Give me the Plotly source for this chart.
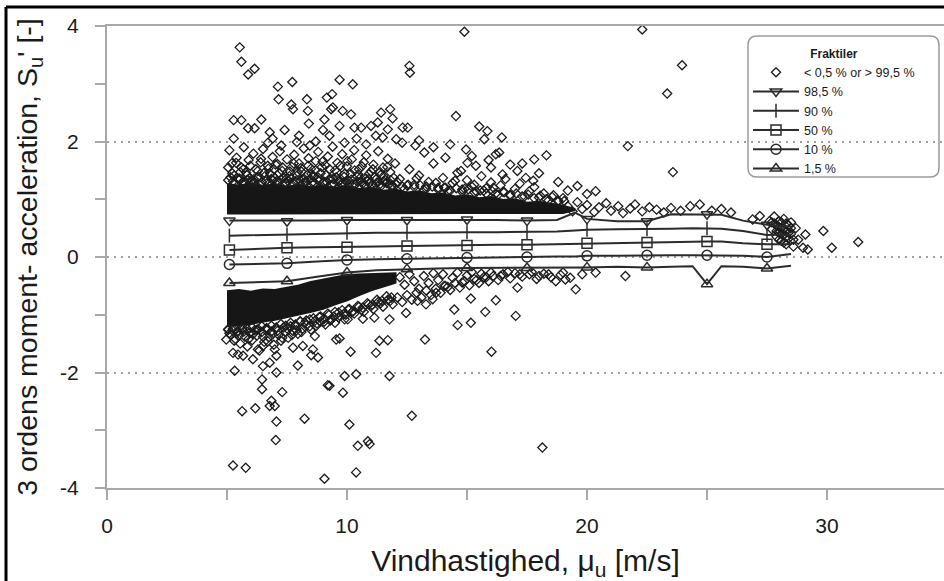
import plotly.graph_objects as go

# ---------------- data ----------------
# percentile curves
pct_x = [5.1, 6.25, 7.5, 8.75, 10, 11.25, 12.5, 13.75, 15, 16.25, 17.5, 18.75, 19.5, 20,
         21.25, 22.5, 23.5, 24.4, 25, 25.6, 26.5, 27.5, 28.5]
pct_marker_x = [5.1, 7.5, 10, 12.5, 15, 17.5, 20, 22.5, 25, 27.5]
p985 = [0.63, 0.63, 0.62, 0.63, 0.64, 0.64, 0.64, 0.65, 0.65, 0.64, 0.63, 0.64, 0.77, 0.66,
        0.62, 0.62, 0.74, 0.74, 0.74, 0.73, 0.63, 0.56, 0.53]
p90 = [0.37, 0.38, 0.39, 0.41, 0.42, 0.42, 0.42, 0.43, 0.43, 0.43, 0.43, 0.44, 0.46, 0.47,
       0.48, 0.48, 0.49, 0.50, 0.50, 0.49, 0.45, 0.38, 0.39]
p50 = [0.12, 0.14, 0.16, 0.17, 0.17, 0.18, 0.19, 0.20, 0.20, 0.21, 0.21, 0.22, 0.23, 0.24,
       0.24, 0.25, 0.26, 0.27, 0.27, 0.27, 0.24, 0.22, 0.22]
p10 = [-0.13, -0.12, -0.11, -0.08, -0.05, -0.04, -0.03, -0.02, -0.01, -0.01, 0.00, 0.01, 0.01, 0.02,
       0.02, 0.03, 0.03, 0.03, 0.03, 0.03, 0.02, 0.00, 0.05]
p015 = [-0.45, -0.44, -0.42, -0.34, -0.27, -0.23, -0.21, -0.20, -0.19, -0.19, -0.19, -0.19, -0.18, -0.18,
        -0.17, -0.18, -0.17, -0.16, -0.47, -0.16, -0.17, -0.20, -0.15]

# saturated (solid black) parts of the point cloud, outline
core_upper_x = [5.0, 10.0, 15.0, 19.0, 19.5, 19.0, 18.5, 18.0, 17.5, 17.0, 16.5, 16.0, 15.5, 15.0, 14.5,
                14.0, 13.5, 13.0, 12.5, 12.0, 11.5, 11.0, 10.5, 10.0, 9.5, 9.0, 8.5, 8.0, 7.5, 7.0, 6.5,
                6.0, 5.5, 5.0]
core_upper_y = [0.76, 0.77, 0.77, 0.77, 0.82, 0.88, 0.91, 0.95, 0.93, 0.99, 0.98, 1.03, 1.01, 1.06, 1.04,
                1.09, 1.08, 1.13, 1.11, 1.16, 1.14, 1.19, 1.17, 1.22, 1.19, 1.23, 1.20, 1.24, 1.21, 1.25,
                1.22, 1.26, 1.23, 1.25]
core_lower_x = [5.0, 5.5, 6.0, 6.5, 7.0, 7.5, 8.0, 8.5, 9.0, 9.5, 10.0, 10.5, 11.0, 11.5, 12.0,
                12.0, 11.5, 11.0, 10.5, 10.0, 9.5, 9.0, 8.5, 8.0, 7.5, 7.0, 6.5, 6.0, 5.5, 5.0]
core_lower_y = [-0.60, -0.58, -0.61, -0.57, -0.58, -0.54, -0.50, -0.44, -0.40, -0.35, -0.32, -0.31, -0.30,
                -0.30, -0.29, -0.44, -0.50, -0.57, -0.65, -0.74, -0.81, -0.89, -0.94, -0.99, -1.04, -1.08,
                -1.11, -1.15, -1.17, -1.19]

# points along the rim of the saturated parts
rim_upper_x = [5.05, 5.25, 5.45, 5.65, 5.85, 6.05, 6.25, 6.45, 6.65, 6.85, 7.05, 7.25, 7.45, 7.65, 7.85,
               8.05, 8.25, 8.45, 8.65, 8.85, 9.05, 9.25, 9.45, 9.65, 9.85, 10.05, 10.25, 10.45, 10.65,
               10.85, 11.05, 11.25, 11.45, 11.65, 11.85, 12.05, 12.3, 12.55, 12.8, 13.05, 13.3, 13.55,
               13.8, 14.05, 14.3, 14.55, 14.8, 15.05, 15.3, 15.55, 15.8, 16.05, 16.3, 16.55, 16.8, 17.05,
               17.3, 17.55, 17.8, 18.05, 18.3, 18.55, 18.8, 19.05]
rim_upper_y = [1.33, 1.31, 1.36, 1.30, 1.34, 1.32, 1.37, 1.30, 1.33, 1.35, 1.31, 1.34, 1.29, 1.36, 1.31,
               1.33, 1.30, 1.35, 1.28, 1.32, 1.30, 1.34, 1.27, 1.31, 1.29, 1.33, 1.26, 1.30, 1.27, 1.31,
               1.25, 1.29, 1.24, 1.28, 1.23, 1.26, 1.22, 1.25, 1.21, 1.24, 1.18, 1.22, 1.17, 1.20, 1.15,
               1.19, 1.13, 1.17, 1.12, 1.15, 1.10, 1.14, 1.08, 1.12, 1.06, 1.10, 1.05, 1.08, 1.02, 1.06,
               1.00, 1.04, 0.98, 0.97]
rim_lower_x = [5.05, 5.25, 5.45, 5.65, 5.85, 6.05, 6.25, 6.45, 6.65, 6.85, 7.05, 7.25, 7.45, 7.65, 7.85,
               8.05, 8.25, 8.45, 8.65, 8.85, 9.05, 9.25, 9.45, 9.65, 9.85, 10.05, 10.25, 10.45, 10.65,
               10.85, 11.05, 11.25, 11.45, 11.65, 11.85,
               12.2, 12.4, 12.6, 12.8, 13.0, 13.2, 13.4, 13.6, 13.8, 14.0, 14.2, 14.4, 14.6, 14.8, 15.0,
               15.2, 15.4, 15.6, 15.8, 16.0, 16.4, 16.7, 17.2, 17.7, 18.4, 19.0]
rim_lower_y = [-1.26, -1.24, -1.28, -1.23, -1.25, -1.22, -1.26, -1.20, -1.23, -1.19, -1.22, -1.16, -1.19,
               -1.14, -1.17, -1.11, -1.14, -1.08, -1.11, -1.04, -1.07, -1.00, -1.03, -0.96, -0.99, -0.91,
               -0.94, -0.85, -0.88, -0.80, -0.83, -0.74, -0.76, -0.68, -0.70,
               -0.35, -0.48, -0.30, -0.42, -0.55, -0.33, -0.45, -0.28, -0.40, -0.30, -0.52, -0.36, -0.27,
               -0.44, -0.32, -0.26, -0.40, -0.29, -0.35, -0.27, -0.33, -0.26, -0.30, -0.26, -0.30, -0.27]

# extra points in the half-dense zones next to the solid parts
upper_fill_x = [5.05, 5.22, 5.38, 5.52, 5.68, 5.83, 5.97, 6.12, 6.28, 6.42, 6.58, 6.72, 6.88, 7.02, 7.18,
                7.32, 7.48, 7.62, 7.78, 7.92, 8.08, 8.22, 8.38, 8.52, 8.68, 8.82, 8.98, 9.12, 9.28, 9.42,
                9.58, 9.72, 9.88, 10.02, 10.18, 10.32, 10.48, 10.62, 10.78, 10.92, 11.08, 11.22, 11.38,
                11.52, 11.68, 11.82, 12.1, 12.5, 12.9, 13.3, 13.7, 14.1, 14.5, 14.9, 15.3, 15.7, 16.1, 16.5]
upper_fill_y = [1.55, 1.45, 1.63, 1.36, 1.52, 1.42, 1.58, 1.35, 1.49, 1.70, 1.40, 1.53, 1.34, 1.60, 1.45,
                1.55, 1.36, 1.48, 1.62, 1.41, 1.54, 1.35, 1.58, 1.44, 1.50, 1.37, 1.65, 1.42, 1.52, 1.35,
                1.47, 1.58, 1.39, 1.66, 1.34, 1.50, 1.43, 1.57, 1.36, 1.44, 1.52, 1.35, 1.47, 1.40, 1.56,
                1.33, 1.30, 1.24, 1.36, 1.22, 1.28, 1.20, 1.32, 1.18, 1.25, 1.15, 1.20, 1.13]
lower_fill_x = [5.1, 5.3, 5.5, 5.7, 5.9, 6.1, 6.3, 6.5, 6.7, 6.9, 7.1, 7.3, 7.5, 7.7, 7.9, 8.1, 8.3, 8.5,
                8.7, 8.9, 9.1, 9.3, 9.5, 9.7, 9.9, 10.2, 10.6, 11.0, 11.4, 11.8]
lower_fill_y = [-1.32, -1.45, -1.36, -1.29, -1.42, -1.33, -1.25, -1.38, -1.46, -1.34, -1.28, -1.40, -1.24,
                -1.35, -1.27, -1.30, -1.18, -1.26, -1.20, -1.12, -1.17, -1.10, -1.14, -1.02, -1.08, -0.96,
                -0.92, -0.85, -0.80, -0.76]

# individual points: upper semi-dense band
upper_band_x = [5.1, 5.2, 5.3, 5.4, 5.5, 5.6, 5.7, 5.8, 5.9, 6.0, 6.1, 6.2, 6.3, 6.4, 6.5, 6.6, 6.7, 6.8, 6.9,
                7.0, 7.1, 7.2, 7.3, 7.4, 7.5, 7.6, 7.7, 7.8, 7.9, 8.0, 8.1, 8.2, 8.3, 8.4, 8.5, 8.6, 8.7,
                8.8, 8.9, 9.0, 9.1, 9.2, 9.3, 9.4, 9.5, 9.6, 9.7, 9.8, 9.9, 10.0, 10.1, 10.2, 10.3, 10.4,
                10.5, 10.6, 10.7, 10.8, 10.9, 11.0, 11.1, 11.2, 11.3, 11.4, 11.5, 11.6, 11.7, 11.8, 11.9, 12.0,
                5.15, 5.35, 5.55, 5.75, 5.95, 6.15, 6.35, 6.55, 6.75, 6.95, 7.15, 7.35, 7.55, 7.75, 7.95,
                8.15, 8.35, 8.55, 8.75, 8.95, 9.15, 9.35, 9.55, 9.75, 9.95, 10.15, 10.35, 10.55, 10.75,
                10.95, 11.15, 11.35, 11.55, 11.75, 11.95,
                12.2, 12.4, 12.6, 12.8, 13.0, 13.2, 13.4, 13.6, 13.8, 14.0, 14.2, 14.4, 14.6, 14.8, 15.0,
                15.2, 15.4, 15.6, 15.8, 16.0, 16.2, 16.4, 16.6, 16.8, 17.0, 17.2, 17.4, 17.6, 17.8, 18.0,
                18.2, 18.4, 18.6, 18.8, 19.0,
                19.2, 19.4, 19.6, 19.8, 20.0, 20.3, 20.5, 20.8, 21.0, 21.3, 21.5, 21.8, 22.0, 22.3, 22.6,
                22.9, 23.2, 23.5, 23.9, 24.3, 24.7, 25.2, 25.6, 26.0, 26.9, 27.2]
upper_band_y = [1.85, 1.62, 1.41, 1.72, 1.33, 1.55, 1.90, 1.46, 1.68, 1.29, 1.79, 1.52, 1.38, 1.64, 1.87, 1.31,
                1.58, 1.44, 1.73, 1.36, 1.61, 1.83, 1.49, 1.27, 1.69, 1.40, 1.56, 1.77, 1.33, 1.62, 1.48,
                1.88, 1.30, 1.71, 1.53, 1.39, 1.66, 1.82, 1.45, 1.28, 1.59, 1.74, 1.36, 1.91, 1.50, 1.63,
                1.32, 1.78, 1.44, 1.57, 1.27, 1.69, 1.85, 1.40, 1.52, 1.30, 1.64, 1.76, 1.35, 1.48, 1.60,
                1.26, 1.83, 1.42, 1.55, 1.33, 1.70, 1.47, 1.24, 1.62,
                1.38, 1.27, 1.47, 1.26, 1.37, 1.30, 1.25, 1.46, 1.27, 1.52, 1.30, 1.38, 1.31, 1.28, 1.47,
                1.27, 1.42, 1.29, 1.34, 1.56, 1.30, 1.25, 1.38, 1.26, 1.31, 1.44, 1.26, 1.37, 1.25, 1.29,
                1.38, 1.25, 1.30, 1.26, 1.37,
                1.35, 1.18, 1.52, 1.25, 1.41, 1.16, 1.30, 1.62, 1.20, 1.37, 1.14, 1.28, 1.46, 1.17, 1.33,
                1.22, 1.13, 1.40, 1.19, 1.29, 1.10, 1.24, 1.35, 1.08, 1.18, 1.27, 1.05, 1.14, 1.21, 1.03,
                1.10, 0.98, 1.07, 0.96, 1.02,
                0.88, 0.79, 0.95, 0.83, 0.90, 0.78, 0.86, 0.93, 0.80, 0.88, 0.76, 0.84, 0.91, 0.79, 0.86,
                0.82, 0.77, 0.85, 0.80, 0.88, 0.91, 0.80, 0.83, 0.77, 0.65, 0.71]

# cluster at the high-wind end
end_cluster_x = [27.6, 27.7, 27.8, 27.9, 27.9, 28.0, 28.0, 28.1, 28.1, 28.2, 28.2, 28.3, 28.3, 28.4, 28.4,
                 28.5, 28.5, 28.6, 28.7, 28.8, 29.0, 29.1, 29.2, 29.85, 30.2, 31.3,
                 27.8, 27.9, 28.0, 28.0, 28.1, 28.2, 28.2, 28.3, 28.4, 28.3, 28.5, 28.6, 27.7, 28.1]
end_cluster_y = [0.62, 0.48, 0.70, 0.35, 0.55, 0.42, 0.62, 0.28, 0.50, 0.38, 0.66, 0.45, 0.22, 0.55, 0.32,
                 0.60, 0.40, 0.18, 0.50, 0.30, 0.16, 0.39, 0.13, 0.45, 0.16, 0.26,
                 0.58, 0.45, 0.52, 0.30, 0.60, 0.48, 0.25, 0.58, 0.42, 0.35, 0.50, 0.30, 0.60, 0.40]

# upper outliers
upper_out_x = [5.28, 5.28, 5.53, 5.60, 5.60, 5.88, 5.88, 6.15, 6.15, 6.43, 6.71, 6.78, 7.12, 7.15, 7.26, 7.68,
               7.72, 7.75, 7.91, 8.33, 8.37, 8.41, 8.45, 9.06, 9.16, 9.27, 9.34, 9.38, 9.41, 9.69, 9.69, 9.82,
               10.17, 10.24, 10.31, 10.59, 11.0, 11.28, 11.42, 11.49, 11.7, 11.8, 11.9, 12.05, 12.32, 12.53,
               12.6, 12.62, 12.85, 13.22, 14.54, 14.75, 14.89, 14.96, 15.02, 15.37, 15.51, 15.72, 15.85, 16.0,
               16.2, 16.34, 16.45, 16.48, 17.1, 17.45, 17.76, 17.8, 18.31, 19.6, 20.0, 20.36, 21.7, 22.3,
               23.34, 23.58, 23.96,
               6.9, 7.4, 8.0, 8.7, 9.0, 9.9, 10.4, 10.8, 11.2, 12.3, 13.0, 13.6, 14.1, 14.3, 15.2, 15.9,
               16.8, 17.3, 18.0, 18.8, 19.2]
upper_out_y = [2.05, 2.37, 3.63, 3.38, 2.37, 3.16, 2.23, 3.26, 2.23, 2.38, 1.98, 2.16, 2.95, 2.73, 1.93, 2.64,
               3.03, 2.56, 1.99, 2.73, 2.53, 2.31, 1.93, 2.38, 2.76, 2.10, 2.56, 2.82, 2.59, 3.07, 2.27, 2.53,
               2.47, 2.99, 2.24, 2.24, 2.27, 2.33, 2.50, 2.07, 2.21, 2.56, 2.40, 2.04, 2.24, 2.24,
               3.31, 3.19, 1.93, 1.81, 2.44, 1.49, 3.90, 1.86, 1.63, 1.58, 2.26, 2.04, 2.18, 1.55,
               1.78, 1.81, 2.07, 1.43, 1.49, 1.37, 1.32, 1.69, 1.76, 1.23, 1.09, 1.14, 1.92, 3.94,
               2.83, 1.47, 3.32,
               2.05, 2.20, 2.10, 2.00, 2.20, 1.98, 2.05, 1.95, 2.10, 1.98, 2.02, 1.90, 1.72, 1.95, 1.75, 1.68,
               1.60, 1.62, 1.45, 1.30, 1.15]

# lower semi-dense band
lower_band_x = [5.05, 5.15, 5.25, 5.35, 5.45, 5.55, 5.65, 5.75, 5.85, 5.95, 6.05, 6.15, 6.25, 6.35, 6.45,
                6.55, 6.65, 6.75, 6.85, 6.95, 7.05, 7.15, 7.25, 7.35, 7.45, 7.55, 7.65, 7.75, 7.85, 7.95,
                8.05, 8.15, 8.3, 8.45, 8.6, 8.75, 8.9, 9.05, 9.2, 9.35, 9.5, 9.65, 9.8, 9.95, 10.1, 10.3,
                10.5, 10.7, 10.9, 11.1, 11.3, 11.5, 11.7, 11.9, 12.1, 12.3, 12.5, 12.7, 12.9, 13.1, 13.3,
                13.5, 13.7, 13.9, 14.1, 14.3, 14.5, 14.7, 14.9, 15.1, 15.3, 15.5, 15.7, 15.9, 16.1, 16.3,
                16.5, 16.8, 17.0, 17.3, 17.6, 17.9, 18.2, 18.5, 18.9, 19.3, 19.8, 20.36, 21.6]
lower_band_y = [-1.25, -1.35, -1.28, -1.42, -1.30, -1.50, -1.26, -1.38, -1.55, -1.31, -1.44, -1.27, -1.36,
                -1.62, -1.30, -1.47, -1.25, -1.39, -1.29, -1.52, -1.24, -1.35, -1.45, -1.22, -1.30, -1.40,
                -1.20, -1.28, -1.18, -1.33, -1.12, -1.24, -1.10, -1.20, -1.06, -1.15, -1.03, -1.12, -0.98,
                -1.08, -0.95, -1.05, -0.92, -1.00, -0.90, -0.98, -0.86, -0.95, -0.82, -0.90, -0.78, -0.86,
                -0.74, -0.82, -0.70, -0.78, -0.66, -0.74, -0.62, -0.70, -0.58, -0.66, -0.55, -0.62, -0.50,
                -0.57, -0.45, -0.53, -0.42, -0.49, -0.38, -0.45, -0.35, -0.42, -0.33, -0.40, -0.30, -0.37,
                -0.28, -0.34, -0.30, -0.38, -0.29, -0.35, -0.31, -0.36, -0.30, -0.27, -0.33]

# lower outliers
lower_out_x = [4.97, 5.25, 5.46, 5.67, 5.32, 6.08, 6.5, 6.46, 6.46, 6.85, 6.78, 6.99, 6.18, 5.63, 7.06, 7.03,
               5.25, 5.78, 9.06, 8.23, 7.3, 9.2, 7.95, 7.06, 7.75, 8.16, 8.58, 8.79, 8.51, 6.99, 7.06, 6.78,
               6.5, 6.29, 9.55, 8.66, 10.03, 10.66, 11.14, 11.77, 12.46, 9.69, 11.35, 11.7, 10.15, 11.21,
               13.25, 9.9, 10.38, 11.77, 9.27, 9.83, 10.1, 10.45, 10.94, 10.87, 10.38, 12.7, 18.14, 16.02,
               14.61, 15.16, 14.47, 15.76, 15.16, 16.2, 17.03, 17.1, 19.53, 18.0, 18.7, 19.1, 13.29, 12.94,
               13.57, 13.71, 14.05]
lower_out_y = [-1.43, -1.66, -1.69, -1.71, -1.97, -1.77, -1.89, -2.12, -2.29, -2.49, -2.58, -2.58, -2.62,
               -2.67, -2.85, -3.17, -3.61, -3.65, -3.84, -2.80, -2.34, -2.22, -1.88, -2.00, -1.57, -1.54,
               -1.60, -1.74, -1.70, -1.60, -1.71, -1.83, -1.54, -1.60, -1.43, -1.37, -1.08, -1.07, -1.05,
               -1.08, -0.97, -1.41, -1.45, -1.44, -1.64, -1.66, -1.43, -2.06, -2.03, -2.06, -2.23, -2.35,
               -2.90, -3.27, -3.24, -3.19, -3.73, -2.75, -3.30, -1.64, -1.18, -1.14, -0.91, -0.95, -0.72,
               -0.75, -1.02, -0.53, -0.56, -0.33, -0.42, -0.39, -0.82, -0.76, -0.73, -0.62, -0.50]

x_ticks = [0, 10, 20, 30]
x_ticktext = ["0", "10", "20", "30"]
y_ticks = [-4, -2, 0, 2, 4]
y_ticktext = ["-4", "-2", "0", "2", "4"]
legend_title = "<b>Fraktiler</b>"
scatter_name = "< 0,5 % or > 99,5 %"
pct_names = ["98,5 %", "90 %", "50 %", "10 %", "1,5 %"]

# ---------------- figure ----------------
W, H = 944, 581
ML, MR, MT, MB = 107, 0, 26, 93
PW, PH = W - ML - MR, H - MT - MB
X_MAX = PW / 24.0
FONT = "Liberation Sans, Arial, sans-serif"
INK = "#1a1a1a"
AXC = "#a8a8a8"
PT = "#1c1c1c"


def px_x(p):
    return (p - ML) / PW


def px_y(p):
    return (H - MB - p) / PH


fig = go.Figure()

for cx, cy in [(core_upper_x, core_upper_y), (core_lower_x, core_lower_y)]:
    fig.add_trace(go.Scatter(x=cx, y=cy, mode="lines", fill="toself", fillcolor="#161616",
                             line=dict(color="#161616", width=3), hoverinfo="skip", showlegend=False))

sc_x = (rim_upper_x + rim_lower_x + upper_fill_x + lower_fill_x + upper_band_x + end_cluster_x
        + upper_out_x + lower_band_x + lower_out_x)
sc_y = (rim_upper_y + rim_lower_y + upper_fill_y + lower_fill_y + upper_band_y + end_cluster_y
        + upper_out_y + lower_band_y + lower_out_y)
fig.add_trace(go.Scatter(x=sc_x, y=sc_y, mode="markers", name=scatter_name,
                         marker=dict(symbol="diamond-open", size=7, color=PT,
                                     line=dict(width=1.3, color=PT)),
                         legendrank=1))

symbols = ["triangle-down-open", "line-ns-open", "square-open", "circle-open", "triangle-up-open"]
LC = "#2b2b2b"
for i, (vals, sym, nm) in enumerate(zip([p985, p90, p50, p10, p015], symbols, pct_names)):
    fig.add_trace(go.Scatter(x=pct_x, y=vals, mode="lines", line=dict(color=LC, width=2),
                             showlegend=False, hoverinfo="skip"))
    mk_y = [v for xx, v in zip(pct_x, vals) if xx in pct_marker_x]
    mk_x = [xx for xx in pct_x if xx in pct_marker_x]
    fig.add_trace(go.Scatter(x=mk_x, y=mk_y, mode="markers", showlegend=False,
                             marker=dict(symbol=sym, size=10, color=LC,
                                         line=dict(width=1.5, color=LC))))
    fig.add_trace(go.Scatter(x=[None], y=[None], mode="lines+markers", name=nm, legendrank=2 + i,
                             line=dict(color=LC, width=2),
                             marker=dict(symbol=sym, size=10, color=LC,
                                         line=dict(width=1.5, color=LC))))

# rounded legend frame (pixels -> paper)
bx0, by0, bx1, by1, r = 748, 36, 939, 177, 9
rx, ry = r / PW, r / PH
X0, X1, Y0, Y1 = px_x(bx0), px_x(bx1), px_y(by1), px_y(by0)
path = (f"M {X0+rx},{Y1} L {X1-rx},{Y1} Q {X1},{Y1} {X1},{Y1-ry} L {X1},{Y0+ry} "
        f"Q {X1},{Y0} {X1-rx},{Y0} L {X0+rx},{Y0} Q {X0},{Y0} {X0},{Y0+ry} L {X0},{Y1-ry} "
        f"Q {X0},{Y1} {X0+rx},{Y1} Z")
shapes = [
    dict(type="path", path=path, xref="paper", yref="paper", fillcolor="white",
         line=dict(color="#9a9a9a", width=1.5), layer="below"),
    # outer black frame of the figure
    dict(type="line", xref="paper", yref="paper", x0=px_x(6), x1=px_x(960), y0=px_y(7), y1=px_y(7),
         line=dict(color="black", width=3)),
    dict(type="line", xref="paper", yref="paper", x0=px_x(6), x1=px_x(6), y0=px_y(7), y1=px_y(600),
         line=dict(color="black", width=3)),
]

fig.update_layout(
    width=W, height=H, margin=dict(l=ML, r=MR, t=MT, b=MB),
    paper_bgcolor="white", plot_bgcolor="white",
    font=dict(family=FONT, color=INK),
    shapes=shapes,
    showlegend=True,
    legend=dict(x=px_x(bx0), y=px_y(by0 + 6), xanchor="left", yanchor="top",
                bgcolor="rgba(0,0,0,0)", borderwidth=0, itemwidth=46, tracegroupgap=0,
                font=dict(size=12.5, family=FONT, color=INK),
                title=dict(text=legend_title, side="top center", font=dict(size=12, family=FONT))),
    xaxis=dict(range=[0, X_MAX], tickvals=x_ticks, ticktext=x_ticktext, ticks="outside", ticklen=10,
               tickcolor=AXC, tickwidth=1.5, showline=True, linecolor=AXC, linewidth=2, mirror=True,
               showgrid=False, zeroline=False, tickfont=dict(size=21, family=FONT, color=INK),
               ticklabelstandoff=8,
               minor=dict(tickvals=[5, 15, 25], ticks="outside", ticklen=10, tickcolor=AXC,
                          tickwidth=1.5, showgrid=False),
               title=dict(text="Vindhastighed, μ<sub>u</sub> [m/s]", font=dict(size=30, family=FONT),
                          standoff=15)),
    yaxis=dict(range=[-4, 4], tickvals=y_ticks, ticktext=y_ticktext, ticks="outside", ticklen=10,
               tickcolor=AXC, tickwidth=1.5, showline=True, linecolor=AXC, linewidth=2,
               showgrid=True, gridcolor="#a0a0a0", gridwidth=1.5, griddash="2px,5px",
               zeroline=False, tickfont=dict(size=21, family=FONT, color=INK),
               ticklabelstandoff=12,
               minor=dict(tickvals=[-3, -1, 1, 3], ticks="outside", ticklen=10, tickcolor=AXC,
                          tickwidth=1.5, showgrid=False),
               title=dict(text="3 ordens moment- acceleration, S<sub>u</sub>' [-]",
                          font=dict(size=28.5, family=FONT), standoff=14)),
)

fig.write_html("out.html")
